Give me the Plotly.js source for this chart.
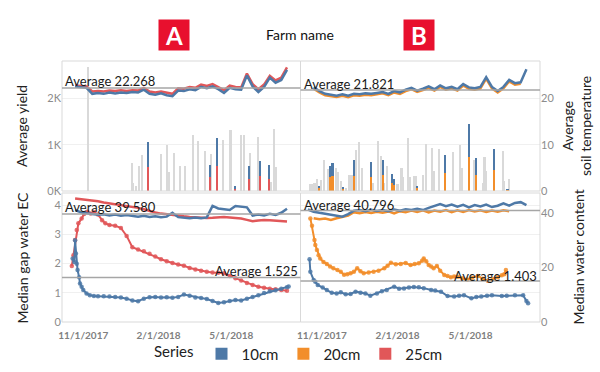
<!DOCTYPE html>
<html><head><meta charset="utf-8">
<script src="https://cdn.plot.ly/plotly-3.0.1.min.js"></script>
<style>html,body{margin:0;padding:0;background:#fff}#chart{width:600px;height:372px}</style>
</head><body><div id="chart"></div>
<script>
// ---------- DATA ----------
const weeks = ['2017-10-08','2017-10-15','2017-10-22','2017-10-29','2017-11-05','2017-11-12','2017-11-19','2017-11-26','2017-12-03','2017-12-10','2017-12-17','2017-12-24','2017-12-31','2018-01-07','2018-01-14','2018-01-21','2018-01-28','2018-02-04','2018-02-11','2018-02-18','2018-02-25','2018-03-04','2018-03-11','2018-03-18','2018-03-25','2018-04-01','2018-04-08','2018-04-15','2018-04-22','2018-04-29','2018-05-06','2018-05-13','2018-05-20','2018-05-27','2018-06-03','2018-06-10','2018-06-17','2018-06-24','2018-07-01','2018-07-08'];

// soil temperature (top panels, right axis)
const tempA10 = [null,null,22.6,22.5,22.3,21.0,21.2,21.0,21.3,21.1,21.3,21.2,21.4,21.3,21.9,21.0,20.8,21.1,20.7,20.5,21.7,21.6,22.0,21.8,22.5,22.2,22.6,22.0,21.2,22.3,22.0,21.9,25.0,22.6,21.4,22.5,24.5,23.4,24.0,26.2];
const tempA25 = [null,null,22.8,22.7,22.6,21.5,21.6,21.5,21.7,21.6,21.8,21.6,21.8,21.7,22.3,21.5,21.3,21.5,21.2,21.0,22.2,22.1,22.5,22.3,23.0,22.7,23.1,22.5,21.8,22.8,22.5,22.4,25.4,23.1,22.0,23.0,24.9,23.9,24.5,26.7];
const tempB10 = [null,null,22.4,21.6,21.0,20.8,20.6,20.9,20.6,21.0,20.9,21.1,21.0,21.2,21.4,21.0,21.6,21.3,21.9,22.3,21.7,22.1,22.6,22.0,22.8,22.2,22.5,22.0,23.1,22.4,22.2,22.5,24.6,22.5,21.6,22.5,24.0,23.3,23.5,26.3];
const tempB20 = [null,null,22.1,21.3,20.7,20.5,20.3,20.6,20.3,20.7,20.6,20.8,20.7,20.9,21.1,20.7,21.3,21.0,21.6,22.0,21.4,21.8,22.3,21.7,22.5,21.9,22.2,21.7,22.8,22.1,21.9,22.2,24.3,22.2,21.3,22.2,23.7,23.0,23.2,null];

// water content (bottom panels, right axis)
const wcA10 = [null,null,41.0,40.2,39.8,39.6,39.3,39.5,39.0,39.4,38.9,39.2,38.8,38.6,38.9,38.5,38.7,38.4,38.6,40.0,38.4,38.2,38.0,38.3,38.0,38.3,42.5,41.6,41.2,41.0,42.5,42.3,42.0,39.0,39.4,39.0,39.6,39.2,40.0,41.5];
const wcA25 = [null,null,45.2,45.0,44.8,44.5,44.2,43.8,43.5,43.2,42.9,42.5,42.2,41.8,41.3,40.6,40.1,39.7,39.4,39.1,38.9,38.7,38.5,38.3,38.1,38.1,38.2,38.4,38.5,38.3,38.1,37.9,37.4,36.9,37.2,37.4,37.3,37.1,36.8,36.8];
const wcB10 = [null,41.2,40.4,40.0,39.7,39.4,39.0,38.6,39.5,40.8,41.0,40.6,41.1,40.7,41.0,40.6,41.2,40.8,41.3,41.0,41.5,41.0,41.8,42.5,43.2,42.4,43.0,42.2,42.9,42.0,42.8,42.3,43.0,42.1,42.6,43.5,42.6,43.6,43.9,42.8];
const wcB20 = [null,null,38.0,37.6,37.9,37.4,38.0,38.6,39.0,40.2,39.8,40.3,39.9,40.4,40.0,40.5,39.8,40.6,40.2,40.8,40.3,40.9,40.1,40.8,40.4,41.0,40.2,40.9,40.3,41.0,40.5,40.9,40.3,40.8,40.4,40.9,40.6,null,null,null];

// gap water EC (bottom panels, left axis)
const ecA25Dates = ['2017-10-18','2017-10-20','2017-10-22','2017-10-24','2017-10-26','2017-10-30','2017-11-02','2017-11-06','2017-11-10','2017-11-14','2017-11-19','2017-11-24','2017-11-28','2017-12-03','2017-12-10','2017-12-17','2017-12-24','2017-12-31','2018-01-07','2018-01-14','2018-01-21','2018-01-28','2018-02-04','2018-02-11','2018-02-18','2018-02-25','2018-03-04','2018-03-11','2018-03-18','2018-03-25','2018-04-01','2018-04-08','2018-04-15','2018-04-22','2018-04-29','2018-05-06','2018-05-13','2018-05-20','2018-05-27','2018-06-03','2018-06-10','2018-06-17','2018-06-24','2018-07-01','2018-07-08'];
const ecA25 = [1.92,2.29,2.81,3.15,3.38,3.55,3.70,3.78,3.72,3.76,3.68,3.49,3.38,3.32,3.30,3.22,2.95,2.56,2.48,2.42,2.34,2.24,2.15,2.08,2.02,1.97,1.93,1.85,1.80,1.76,1.72,1.70,1.69,1.67,1.58,1.50,1.42,1.34,1.27,1.21,1.17,1.14,1.12,1.10,1.07];
const ecA10Dates = ['2017-10-19','2017-10-21','2017-10-22','2017-10-23','2017-10-24','2017-10-25','2017-10-27','2017-10-28','2017-10-30','2017-11-01','2017-11-05','2017-11-09','2017-11-14','2017-11-19','2017-11-26','2017-12-03','2017-12-10','2017-12-17','2017-12-24','2017-12-31','2018-01-07','2018-01-14','2018-01-21','2018-01-28','2018-02-04','2018-02-11','2018-02-18','2018-02-25','2018-03-04','2018-03-11','2018-03-18','2018-03-25','2018-04-01','2018-04-08','2018-04-15','2018-04-22','2018-04-29','2018-05-06','2018-05-13','2018-05-20','2018-05-27','2018-06-03','2018-06-10','2018-06-17','2018-06-24','2018-07-01','2018-07-08','2018-07-10'];
const ecA10 = [2.18,2.06,2.80,2.35,2.00,1.78,1.53,1.32,1.21,1.10,0.98,0.92,0.89,0.88,0.88,0.87,0.86,0.84,0.80,0.74,0.71,0.80,0.85,0.86,0.84,0.85,0.83,0.86,0.94,0.90,0.84,0.82,0.79,0.72,0.65,0.68,0.72,0.75,0.74,0.80,0.86,0.92,0.99,1.05,1.09,1.14,1.19,1.22];
const ecB20Dates = ['2017-10-18','2017-10-20','2017-10-23','2017-10-24','2017-10-26','2017-10-28','2017-10-30','2017-11-03','2017-11-07','2017-11-11','2017-11-15','2017-11-20','2017-11-24','2017-11-28','2017-12-02','2017-12-06','2017-12-10','2017-12-14','2017-12-18','2017-12-22','2017-12-28','2018-01-03','2018-01-09','2018-01-16','2018-01-20','2018-01-24','2018-01-30','2018-02-05','2018-02-11','2018-02-17','2018-02-22','2018-02-27','2018-03-03','2018-03-05','2018-03-08','2018-03-11','2018-03-14','2018-03-17','2018-03-21','2018-03-25','2018-03-30','2018-04-03','2018-04-07','2018-04-11','2018-04-15','2018-04-21','2018-04-27','2018-05-03','2018-05-10','2018-05-16','2018-05-22','2018-05-28','2018-06-03','2018-06-08','2018-06-11','2018-06-13'];
const ecB20 = [3.55,3.30,2.81,2.64,2.47,2.29,2.18,2.06,1.99,1.90,1.84,1.78,1.72,1.62,1.64,1.67,1.72,1.84,1.74,1.67,1.70,1.72,1.76,1.84,1.93,2.03,1.98,1.99,2.02,1.95,1.99,2.01,2.10,2.18,2.08,1.95,1.90,1.84,1.92,1.76,1.61,1.58,1.53,1.56,1.55,1.50,1.46,1.52,1.58,1.48,1.41,1.47,1.53,1.60,1.64,1.78];
const ecB10Dates = ['2017-10-17','2017-10-18','2017-10-22','2017-10-24','2017-10-27','2017-11-02','2017-11-07','2017-11-13','2017-11-19','2017-11-24','2017-11-30','2017-12-06','2017-12-12','2017-12-18','2017-12-24','2017-12-30','2018-01-07','2018-01-13','2018-01-19','2018-01-28','2018-02-03','2018-02-09','2018-02-15','2018-02-21','2018-02-27','2018-03-05','2018-03-14','2018-03-19','2018-03-26','2018-04-03','2018-04-11','2018-04-17','2018-04-23','2018-05-02','2018-05-08','2018-05-14','2018-05-21','2018-05-27','2018-06-08','2018-06-14','2018-06-24','2018-07-04','2018-07-08','2018-07-10'];
const ecB10 = [2.15,1.72,1.44,1.38,1.27,1.18,1.10,1.00,0.98,1.02,0.95,0.96,1.04,1.00,0.98,0.90,0.98,1.05,1.10,1.21,1.14,1.15,1.18,1.20,1.19,1.16,1.10,1.08,1.04,0.89,0.87,0.90,0.92,0.81,0.86,0.87,0.90,0.92,0.89,0.90,0.92,0.92,0.72,0.64];

// yield bars (top panels, left axis)
const barAGrayDates = ['2017-11-07','2017-12-31','2018-01-01','2018-01-04','2018-01-08','2018-01-12','2018-02-04','2018-02-11','2018-02-14','2018-02-20','2018-02-27','2018-03-05','2018-03-15','2018-03-21','2018-03-30','2018-04-06','2018-04-21','2018-04-30','2018-05-13','2018-05-16','2018-05-24','2018-06-03','2018-06-18','2018-06-22','2018-06-24'];
const barAGray = [2680,610,180,110,550,780,810,990,410,830,550,530,1210,1080,860,810,1100,1320,1220,1220,830,1160,200,1330,510];
const barADates = ['2018-01-19','2018-04-05','2018-04-13','2018-05-05','2018-05-23','2018-06-05','2018-06-16'];
const barA25 = [510,300,550,50,270,320,270];
const barA10 = [540,270,590,60,270,330,290];
const barBGrayDates = ['2017-10-18','2017-10-20','2017-10-23','2017-10-26','2017-10-31','2017-11-04','2017-11-08','2017-11-18','2017-11-21','2017-11-24','2017-11-30','2017-12-04','2017-12-07','2017-12-13','2017-12-16','2017-12-20','2018-01-02','2018-01-08','2018-01-12','2018-01-16','2018-01-19','2018-02-01','2018-02-06','2018-02-08','2018-02-14','2018-02-16','2018-02-21','2018-02-23','2018-03-04','2018-03-08','2018-03-15','2018-03-17','2018-03-24','2018-04-10','2018-04-18','2018-04-20','2018-05-05','2018-05-16','2018-05-18','2018-05-20','2018-06-09','2018-06-11','2018-06-17'];
const barBGray = [150,150,180,270,240,680,470,490,400,220,60,350,350,890,1060,490,180,1080,760,180,530,150,490,310,1140,310,330,330,350,1020,930,440,910,850,990,490,670,180,730,440,870,220,270];
const barBDates = ['2017-10-29','2017-11-11','2017-11-14','2017-11-27','2017-12-10','2017-12-31','2018-01-14','2018-01-25','2018-01-28','2018-02-25','2018-03-31','2018-04-29','2018-05-08','2018-05-30','2018-06-15'];
const barB20 = [70,300,320,40,320,310,350,170,130,60,380,730,350,450,20];
const barB10 = [40,240,290,40,350,310,320,190,120,50,400,710,360,450,20];

// reference lines
const avgTemp = [22.268, 21.821];
const avgWC = [39.580, 40.796];
const avgEC = [1.525, 1.403];

const xTickVals = ['2017-11-01','2018-02-01','2018-05-01'];
const xTickText = ['11/1/2017','2/1/2018','5/1/2018'];
const yieldTickVals = [0,1000,2000];
const yieldTickText = ['0K','1K','2K'];

// ---------- STYLE ----------
const C10 = '#4e79a7', C20 = '#f28e2b', C25 = '#e15759', CG = '#d9d9d9';
const W = 600, H = 372;
const px = v => v / W, py = v => 1 - v / H;
const domA = [px(62), px(300.5)], domB = [px(300.5), px(540)];
const domTop = [py(191), py(61)], domBot = [py(322), py(193)];
const xRange = ['2017-10-06', '2018-07-24 12:00'];
const barW = 2.6 * 86400000;
const FONT = 'Lato, "Open Sans", sans-serif';

function bar(x, y, xa, color, opts) {
  return Object.assign({type:'bar', x:x, y:y, xaxis:xa, yaxis:'y', width:barW,
    marker:{color:color, line:{width:0}}, showlegend:false, hoverinfo:'skip'}, opts||{});
}
function line(x, y, xa, ya, color, w) {
  return {type:'scatter', mode:'lines', x:x, y:y, xaxis:xa, yaxis:ya,
    line:{color:color, width:w||2.5}, showlegend:false, connectgaps:false, hoverinfo:'skip'};
}
function dots(x, y, xa, ya, color) {
  return {type:'scatter', mode:'lines+markers', x:x, y:y, xaxis:xa, yaxis:ya,
    line:{color:color, width:2}, marker:{color:color, size:4.5, opacity:0.85},
    showlegend:false, hoverinfo:'skip'};
}

const traces = [
  bar(barAGrayDates, barAGray, 'x3', CG),
  bar(barADates, barA25, 'x3', C25, {name:'25cm', showlegend:true, legendrank:3}),
  bar(barADates, barA10, 'x3', C10, {base:barA25, name:'10cm', showlegend:true, legendrank:1}),
  bar(barBGrayDates, barBGray, 'x4', CG),
  bar(barBDates, barB20, 'x4', C20, {name:'20cm', showlegend:true, legendrank:2}),
  bar(barBDates, barB10, 'x4', C10, {base:barB20}),
  line(weeks, tempA25, 'x3', 'y2', C25),
  line(weeks, tempA10, 'x3', 'y2', C10),
  line(weeks, tempB20, 'x4', 'y2', C20),
  line(weeks, tempB10, 'x4', 'y2', C10),
  dots(ecA25Dates, ecA25, 'x', 'y3', C25),
  dots(ecA10Dates, ecA10, 'x', 'y3', C10),
  dots(ecB20Dates, ecB20, 'x2', 'y3', C20),
  dots(ecB10Dates, ecB10, 'x2', 'y3', C10),
  line(weeks, wcA25, 'x', 'y4', C25),
  line(weeks, wcA10, 'x', 'y4', C10),
  line(weeks, wcB20, 'x2', 'y4', C20),
  line(weeks, wcB10, 'x2', 'y4', C10)
];

const tickFontY = {family:FONT, size:11, color:'#8c8c8c'};
const xBase = {type:'date', range:xRange, tickvals:xTickVals, ticktext:xTickText,
  showgrid:false, zeroline:false, showline:false, ticks:'', fixedrange:true, ticklabelstandoff:6,
  tickfont:{family:FONT, size:10, color:'#808080', weight:700}};
const yBase = {zeroline:false, showline:false, ticks:'', fixedrange:true, tickfont:tickFontY};

const border = (xr, yr) => ({type:'rect', xref:xr+' domain', yref:yr+' domain', x0:0, x1:1, y0:0, y1:1,
  line:{color:'#d9d9d9', width:1}, fillcolor:'rgba(0,0,0,0)'});
const avgLine = (xr, yr, v) => ({type:'line', xref:xr+' domain', yref:yr, x0:0, x1:1, y0:v, y1:v,
  line:{color:'#a6a6a6', width:1.5}});
const avgText = (xr, yr, v, right, shift) => ({xref:xr+' domain', yref:yr, x:right?1:0, y:v,
  xanchor:right?'right':'left', yanchor:'middle', yshift:shift, xshift:right?-1:1,
  text:'Average '+v.toFixed(3), showarrow:false, font:{family:FONT, size:13, color:'#1a1a1a'}});
const axTitle = (x, y, t) => ({xref:'paper', yref:'paper', x:x, y:y, xanchor:'center', yanchor:'middle',
  text:t, textangle:-90, showarrow:false, font:{family:FONT, size:14, color:'#222'}});
const badge = (x, t) => ({xref:'paper', yref:'paper', x:x, y:py(35.3), xanchor:'center', yanchor:'middle',
  text:'<b>'+t+'</b>', showarrow:false, bgcolor:'#e8102e', width:30, height:30, borderpad:0,
  font:{family:FONT, size:24, color:'#ffffff'}});

const layout = {
  width:W, height:H, margin:{l:0, r:0, t:0, b:0},
  paper_bgcolor:'#ffffff', plot_bgcolor:'rgba(0,0,0,0)',
  font:{family:FONT, color:'#222'},
  barmode:'overlay', bargap:0,
  title:{text:'Farm name', x:0.5, xanchor:'center', y:py(35), yanchor:'middle', font:{family:FONT, size:14, color:'#111'}},
  xaxis: Object.assign({}, xBase, {domain:domA, anchor:'y3'}),
  xaxis2: Object.assign({}, xBase, {domain:domB, anchor:'y3'}),
  xaxis3: Object.assign({}, xBase, {domain:domA, anchor:'y', showticklabels:false}),
  xaxis4: Object.assign({}, xBase, {domain:domB, anchor:'y', showticklabels:false}),
  yaxis: Object.assign({}, yBase, {domain:domTop, anchor:'x3', side:'left', range:[0,2810],
    tickvals:yieldTickVals, ticktext:yieldTickText, showgrid:true, gridcolor:'#f0f0f0'}),
  yaxis2: Object.assign({}, yBase, {domain:domTop, anchor:'x4', side:'right', overlaying:'y', range:[0,28.1],
    tickvals:[0,10,20], showgrid:false}),
  yaxis3: Object.assign({}, yBase, {domain:domBot, anchor:'x', side:'left', range:[0,4.42],
    tickvals:[0,1,2,3,4], showgrid:true, gridcolor:'#f0f0f0'}),
  yaxis4: Object.assign({}, yBase, {domain:domBot, anchor:'x2', side:'right', overlaying:'y3', range:[0,47.25],
    tickvals:[0,20,40], showgrid:false}),
  shapes: [
    border('x3','y'), border('x4','y'), border('x','y3'), border('x2','y3'),
    avgLine('x3','y2',avgTemp[0]), avgLine('x4','y2',avgTemp[1]),
    avgLine('x','y4',avgWC[0]), avgLine('x2','y4',avgWC[1]),
    avgLine('x','y3',avgEC[0]), avgLine('x2','y3',avgEC[1])
  ],
  annotations: [
    avgText('x3','y2',avgTemp[0],false,6.5), avgText('x4','y2',avgTemp[1],false,6.5),
    avgText('x','y4',avgWC[0],false,6.5), avgText('x2','y4',avgWC[1],false,5.5),
    avgText('x','y3',avgEC[0],true,6.5), avgText('x2','y3',avgEC[1],true,5.5),
    axTitle(px(22), (domTop[0]+domTop[1])/2, 'Average yield'),
    axTitle(px(22), (domBot[0]+domBot[1])/2, 'Median gap water EC'),
    axTitle(px(577), (domTop[0]+domTop[1])/2, 'Average<br>soil temperature'),
    axTitle(px(578), (domBot[0]+domBot[1])/2, 'Median water content'),
    badge(px(173.7), 'A'), badge(px(419.3), 'B')
  ],
  legend:{orientation:'h', x:0.5, xanchor:'center', y:py(354), yanchor:'middle',
    font:{family:FONT, size:15, color:'#222'}, itemwidth:30,
    title:{text:'Series', side:'left', font:{family:FONT, size:15, color:'#222'}},
    bgcolor:'rgba(0,0,0,0)'}
};

Plotly.newPlot('chart', traces, layout, {displayModeBar:false, staticPlot:true});
</script></body></html>
